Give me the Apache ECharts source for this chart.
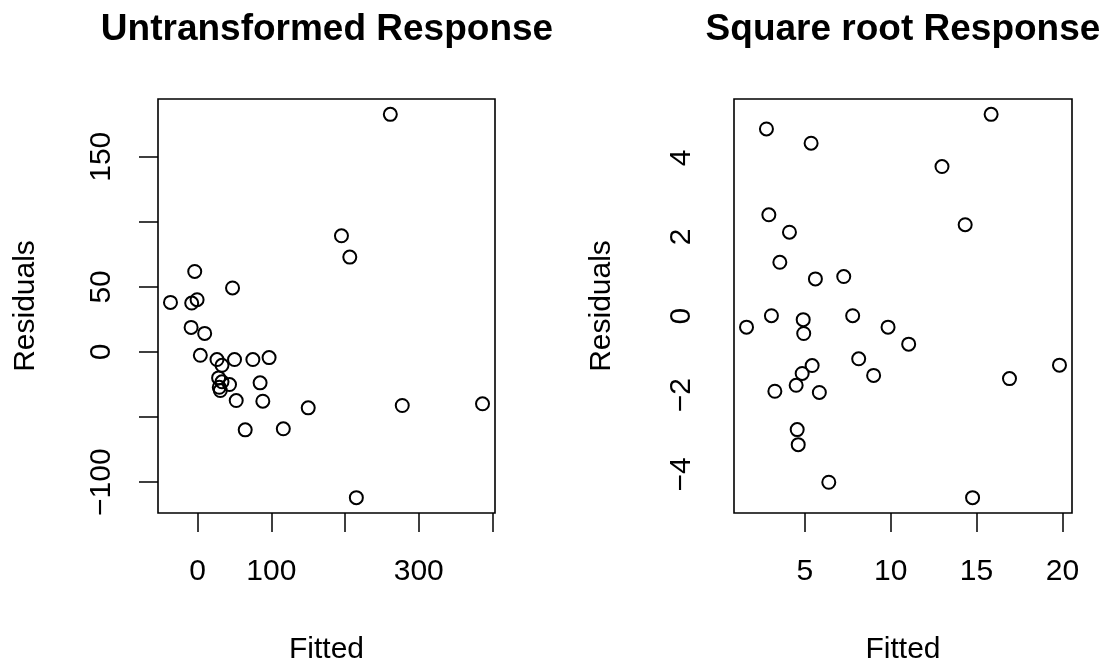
<!DOCTYPE html>
<html>
<head>
<meta charset="utf-8">
<script src="https://cdn.jsdelivr.net/npm/echarts@6/dist/echarts.min.js"></script>
<style>
  html, body { margin: 0; padding: 0; background: #fff; }
  #chart { width: 1105px; height: 662px; }
</style>
</head>
<body>
<div id="chart"></div>
<script>
// Untransformed response: fitted vs residuals
const fittedRaw = [261.4, 195.1, 206.4, -4.0, 47.3, -36.9, -8.1, -0.8, -8.9, 9.5,
  3.6, 26.2, 33.0, 50.0, 74.9, 96.9, 84.7, 88.4, 52.3, 64.5,
  116.2, 150.0, 277.6, 386.5, 215.3, 28.4, 33.0, 43.2, 29.3, 30.7];
const residRaw = [182.6, 89.3, 72.9, 61.9, 49.2, 38.1, 37.6, 40.2, 18.9, 14.3,
  -2.5, -5.8, -10.2, -5.8, -5.8, -4.3, -23.7, -37.8, -37.3, -59.8,
  -59.0, -42.9, -41.1, -39.8, -111.9, -19.9, -22.9, -25.0, -27.1, -29.6];

// Square root response: fitted vs residuals
const fittedSqrt = [2.77, 5.37, 15.85, 12.99, 2.91, 4.11, 14.34, 3.55, 5.62, 7.27,
  3.06, 1.61, 4.91, 4.94, 7.79, 9.85, 11.05, 8.14, 9.01, 5.43,
  4.85, 4.50, 3.26, 5.85, 16.92, 19.83, 4.56, 4.62, 6.40, 14.77];
const residSqrt = [4.73, 4.37, 5.10, 3.78, 2.56, 2.12, 2.31, 1.36, 0.94, 1.00,
  0.01, -0.28, -0.09, -0.44, 0.01, -0.28, -0.71, -1.08, -1.50, -1.25,
  -1.45, -1.75, -1.90, -1.93, -1.58, -1.24, -2.87, -3.25, -4.20, -4.59];

// tick positions / shown labels (R drops overlapping labels)
const rawXTicks = [0, 100, 200, 300, 400];
const rawXLabels = [0, 100, 300];
const rawYTicks = [-100, -50, 0, 50, 100, 150];
const rawYLabels = [-100, 0, 50, 150];
const sqrtXTicks = [5, 10, 15, 20];
const sqrtYLabels = [-4, -2, 0, 2, 4];

const FONT = "'Liberation Sans', Arial, Helvetica, sans-serif";
const INK = '#000';

// R style range: data range padded by 4% each side
const padMin = (v) => v.min - 0.04 * (v.max - v.min);
const padMax = (v) => v.max + 0.04 * (v.max - v.min);
const minus = (v) => String(v).replace('-', '\u2212');

const zip = (xs, ys) => xs.map((x, i) => [x, ys[i]]);

function xAxisFor(gridIndex, ticks, labels) {
  return {
    type: 'value',
    gridIndex,
    min: padMin,
    max: padMax,
    name: 'Fitted',
    nameLocation: 'middle',
    nameGap: 122,
    nameMoveOverlap: false,
    nameTextStyle: { fontFamily: FONT, fontSize: 30, color: INK },
    splitLine: { show: false },
    axisLine: { show: false, onZero: false },
    axisTick: {
      show: true, inside: false, length: 19, customValues: ticks,
      lineStyle: { color: INK, width: 1.5 }
    },
    axisLabel: {
      customValues: labels, margin: 44, formatter: minus,
      fontFamily: FONT, fontSize: 30, color: INK
    }
  };
}

function yAxisFor(gridIndex, ticks, labels, margin) {
  return {
    type: 'value',
    gridIndex,
    min: padMin,
    max: padMax,
    name: 'Residuals',
    nameLocation: 'middle',
    nameGap: 117,
    nameMoveOverlap: false,
    nameTextStyle: { fontFamily: FONT, fontSize: 30, color: INK },
    splitLine: { show: false },
    axisLine: { show: false, onZero: false },
    axisTick: {
      show: ticks != null, inside: false, length: 19, customValues: ticks || [],
      lineStyle: { color: INK, width: 1.5 }
    },
    axisLabel: {
      customValues: labels, rotate: 90, margin: margin, formatter: minus,
      fontFamily: FONT, fontSize: 30, color: INK
    }
  };
}

const pointStyle = {
  type: 'scatter',
  symbol: 'circle',
  symbolSize: 13,
  itemStyle: { color: 'rgba(0,0,0,0)', borderColor: INK, borderWidth: 2, opacity: 1 },
  emphasis: { disabled: true },
  silent: true
};

const chart = echarts.init(document.getElementById('chart'), null, { renderer: 'canvas' });

chart.setOption({
  backgroundColor: '#fff',
  animation: false,
  title: [
    {
      text: 'Untransformed Response', left: 322, top: 6, textAlign: 'center',
      textStyle: { fontFamily: FONT, fontSize: 37, fontWeight: 'bold', color: INK }
    },
    {
      text: 'Square root Response', left: 898, top: 6, textAlign: 'center',
      textStyle: { fontFamily: FONT, fontSize: 37, fontWeight: 'bold', color: INK }
    }
  ],
  grid: [
    { left: 158, right: 610, top: 99, bottom: 149, show: true, borderColor: INK, borderWidth: 1.6, backgroundColor: 'transparent', outerBoundsMode: 'none', containLabel: false },
    { left: 734, right: 33, top: 99, bottom: 149, show: true, borderColor: INK, borderWidth: 1.6, backgroundColor: 'transparent', outerBoundsMode: 'none', containLabel: false }
  ],
  xAxis: [
    xAxisFor(0, rawXTicks, rawXLabels),
    xAxisFor(1, sqrtXTicks, sqrtXTicks)
  ],
  yAxis: [
    yAxisFor(0, rawYTicks, rawYLabels, 41),
    yAxisFor(1, null, sqrtYLabels, 37)
  ],
  series: [
    Object.assign({ name: 'raw', xAxisIndex: 0, yAxisIndex: 0, data: zip(fittedRaw, residRaw) }, pointStyle),
    Object.assign({ name: 'sqrt', xAxisIndex: 1, yAxisIndex: 1, data: zip(fittedSqrt, residSqrt) }, pointStyle)
  ]
});
</script>
</body>
</html>
